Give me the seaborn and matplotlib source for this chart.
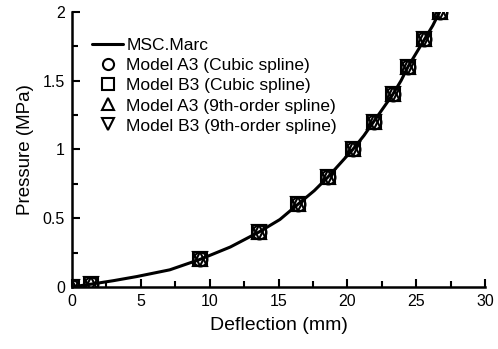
import matplotlib
matplotlib.use("Agg")
import matplotlib.pyplot as plt
import seaborn as sns
import numpy as np
import pandas as pd
from matplotlib.ticker import MultipleLocator, FuncFormatter

sns.set_theme(style="ticks")
plt.rcParams['font.family'] = ['Liberation Sans', 'DejaVu Sans']
plt.rcParams['text.color'] = 'black'
plt.rcParams['axes.labelcolor'] = 'black'
plt.rcParams['xtick.color'] = 'black'
plt.rcParams['ytick.color'] = 'black'

# Model points (all four models coincide)
deflection = [0.0, 1.4, 9.3, 13.6, 16.4, 18.6, 20.4, 21.9, 23.3, 24.4, 25.6, 26.7]
pressure = [0.0, 0.02, 0.2, 0.4, 0.6, 0.8, 1.0, 1.2, 1.4, 1.6, 1.8, 2.0]

# MSC.Marc curve
marc_deflection = [0.0, 1.4, 3.0, 4.7, 7.1, 9.3, 11.5, 13.6, 15.1, 16.4, 17.6, 18.6,
                   19.5, 20.4, 21.2, 21.9, 22.6, 23.3, 23.9, 24.4, 25.0, 25.6, 26.2, 26.7]
marc_pressure = [0.0, 0.02, 0.045, 0.075, 0.124, 0.2, 0.29, 0.4, 0.49, 0.6, 0.7, 0.8,
                 0.9, 1.0, 1.1, 1.2, 1.3, 1.4, 1.5, 1.6, 1.7, 1.8, 1.9, 2.0]

series_labels = ["Model A3 (Cubic spline)", "Model B3 (Cubic spline)",
                 "Model A3 (9th-order spline)", "Model B3 (9th-order spline)"]
series_markers = ["o", "s", "^", "v"]

marc = pd.DataFrame({"Deflection": marc_deflection, "Pressure": marc_pressure})
df = pd.DataFrame({"Deflection": deflection, "Pressure": pressure})

fig = plt.figure(figsize=(4.98, 3.49), dpi=100)
ax = fig.add_axes([0.1446, 0.178, 0.8294, 0.788])

sns.lineplot(data=marc, x="Deflection", y="Pressure", ax=ax, color="black",
             linewidth=2.2, label="MSC.Marc", sort=True)
for lab, m in zip(series_labels, series_markers):
    ax.plot(df["Deflection"], df["Pressure"], linestyle="none", marker=m,
            markersize=10, markerfacecolor="none", markeredgecolor="black",
            markeredgewidth=1.5, label=lab)

ax.set_xlim(0, 30)
ax.set_ylim(0, 2)
ax.xaxis.set_major_locator(MultipleLocator(5))
ax.xaxis.set_minor_locator(MultipleLocator(2.5))
ax.yaxis.set_major_locator(MultipleLocator(0.5))
ax.yaxis.set_minor_locator(MultipleLocator(0.25))
ax.yaxis.set_major_formatter(FuncFormatter(lambda v, p: f"{v:g}"))
ax.tick_params(which="both", direction="in", color="black", width=1.5, labelsize=11.5, pad=5)
ax.tick_params(which="major", length=6)
ax.tick_params(which="minor", length=4)
for s in ["top", "right"]:
    ax.spines[s].set_visible(False)
for s in ["left", "bottom"]:
    ax.spines[s].set_color("black")
    ax.spines[s].set_linewidth(1.8)
ax.set_xlabel("Deflection (mm)", fontsize=14, labelpad=6)
ax.set_ylabel("Pressure (MPa)", fontsize=13.5, labelpad=6)

ax.legend(loc="upper left", bbox_to_anchor=(0.02, 0.948), frameon=False, fontsize=12.5,
          handlelength=1.75, handletextpad=0.2, labelspacing=0.28, borderaxespad=0.3,
          markerscale=0.8)

fig.savefig("out.png", dpi=100)
